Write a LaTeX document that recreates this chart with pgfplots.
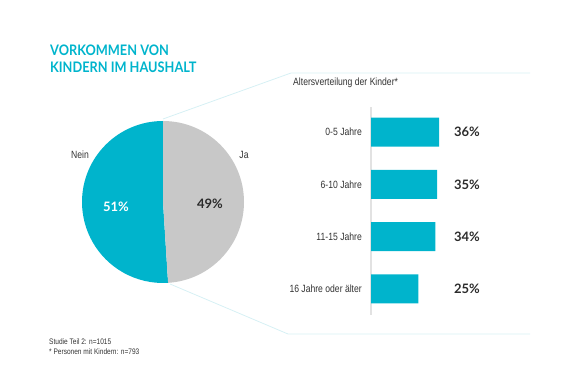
\documentclass[border=0pt]{standalone}
\usepackage{pgfplots}
\pgfplotsset{compat=1.18}
\usepackage{fontspec}
\setmainfont{Liberation Sans}
\newfontfamily\cond{Liberation Sans}[FakeStretch=0.82]
\newfontfamily\bold{Lato}[BoldFont={Lato Bold}]
\newfontfamily\titlef{Lato}[BoldFont={Lato Bold}, FakeStretch=0.88]
\definecolor{cyanc}{HTML}{00B4CC}
\definecolor{grayc}{HTML}{C8C8C8}
\definecolor{darkc}{HTML}{2B2B2B}
\definecolor{textc}{HTML}{333333}
\definecolor{linec}{HTML}{D6F0F4}
\definecolor{axc}{HTML}{E2E2E2}
\def\nein{51}
\def\ja{49}
\begin{document}
\begin{tikzpicture}
\path[use as bounding box] (0bp,0bp) rectangle (580bp,389bp);
% title
\node[anchor=north west, inner sep=0pt, align=left, text=cyanc, font=\titlef\bfseries\fontsize{14.5bp}{16.5bp}\selectfont] at (50bp,344bp) {VORKOMMEN VON\\KINDERN IM HAUSHALT};
% callout outline
\draw[linec, line width=0.8bp] (163bp,270bp) -- (291bp,316bp) -- (530bp,316bp);
\draw[linec, line width=0.8bp] (170bp,105bp) -- (288bp,55bp) -- (530bp,55bp);
% pie
\begin{axis}[at={(163bp,187bp)}, anchor=center, hide axis, scale only axis,
  width=162bp, height=162bp, xmin=-1, xmax=1, ymin=-1, ymax=1, clip=false]
\fill[cyanc] (axis cs:0,0) -- (axis cs:0,1) arc[start angle=90, end angle={90+3.6*\nein}, radius=81bp] -- cycle;
\fill[grayc] (axis cs:0,0) -- (axis cs:0,1) arc[start angle=90, end angle={90-3.6*\ja}, radius=81bp] -- cycle;
\end{axis}
\node[text=textc, font=\cond\fontsize{10.5bp}{12bp}\selectfont] at (80bp,234bp) {Nein};
\node[text=textc, font=\cond\fontsize{10.5bp}{12bp}\selectfont] at (244bp,234bp) {Ja};
\node[text=white, font=\bold\bfseries\fontsize{13bp}{14bp}\selectfont] at (116bp,182bp) {\nein\%};
\node[text=darkc, font=\bold\bfseries\fontsize{13bp}{14bp}\selectfont] at (210bp,185bp) {\ja\%};
% subtitle
\node[anchor=west, inner sep=0pt, text=textc, font=\cond\fontsize{10.5bp}{12bp}\selectfont] at (293bp,306bp) {Altersverteilung der Kinder*};
% bars
\begin{axis}[at={(371bp,74bp)}, anchor=south west, scale only axis,
  width=94.5bp, height=208bp, xmin=0, xmax=50, ymin=-0.48, ymax=3.5,
  y dir=reverse, xbar, bar width=29bp,
  axis x line=none, axis y line*=left,
  y axis line style={axc, line width=1.8bp, -},
  ytick={0,1,2,3}, yticklabels={0-5 Jahre,6-10 Jahre,11-15 Jahre,16 Jahre oder älter},
  major tick length=0pt,
  yticklabel style={text=textc, font=\cond\fontsize{10.5bp}{12bp}\selectfont, inner sep=0pt, xshift=-9bp},
  clip=false]
\addplot[fill=cyanc, draw=none] coordinates {(36,0) (35,1) (34,2) (25,3)};
\addplot[only marks, mark=none, nodes near coords, point meta=explicit symbolic,
  every node near coord/.append style={anchor=center, text=darkc, font=\bold\bfseries\fontsize{13bp}{14bp}\selectfont}]
  coordinates {(50.8,0) [36\%] (50.8,1) [35\%] (50.8,2) [34\%] (50.8,3) [25\%]};
\end{axis}
% footnote
\node[anchor=west, inner sep=0pt, text=textc, font=\cond\fontsize{8bp}{9bp}\selectfont] at (49bp,47bp) {Studie Teil 2: n=1015};
\node[anchor=west, inner sep=0pt, text=textc, font=\cond\fontsize{8bp}{9bp}\selectfont] at (49bp,37bp) {* Personen mit Kindern: n=793};
\end{tikzpicture}
\end{document}
